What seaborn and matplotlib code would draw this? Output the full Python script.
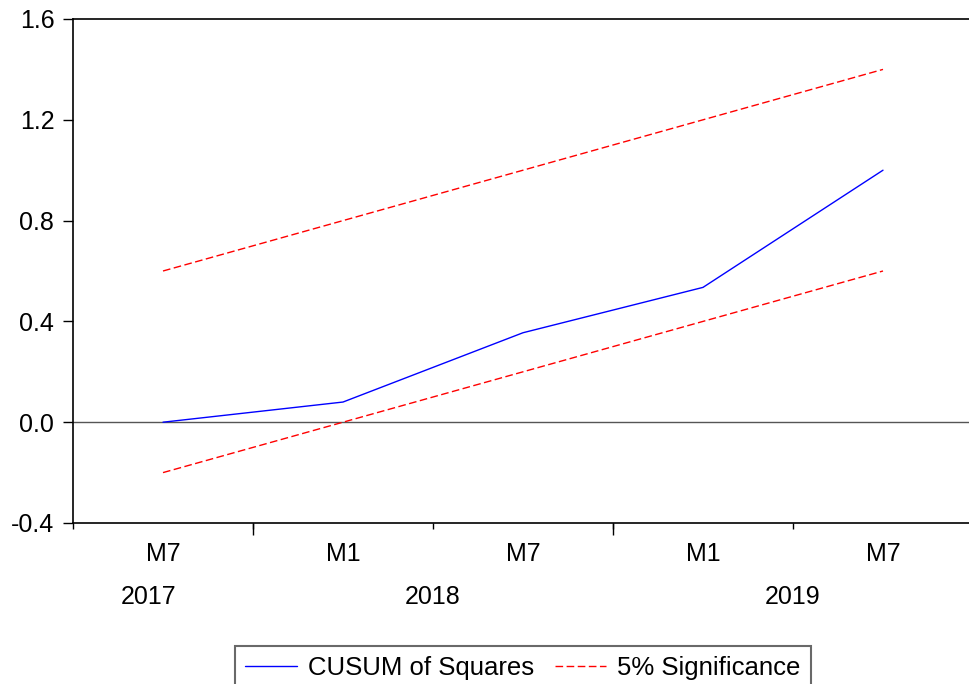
import numpy as np
import pandas as pd
import matplotlib
matplotlib.use('Agg')
import matplotlib.pyplot as plt
import seaborn as sns

# data (semi-annual points)
periods = ['M7', 'M1', 'M7', 'M1', 'M7']
years = ['2017', '2018', '2019']
year_centers = [-0.08, 1.5, 3.5]
cusum_sq = [0.0, 0.08, 0.355, 0.535, 1.0]
upper_5 = [0.6, 0.8, 1.0, 1.2, 1.4]
lower_5 = [-0.2, 0.0, 0.2, 0.4, 0.6]

df = pd.DataFrame({'pos': np.arange(len(periods)), 'cusum': cusum_sq,
                   'upper': upper_5, 'lower': lower_5})

sns.set_style('white')
plt.rcParams['font.family'] = ['Liberation Sans', 'DejaVu Sans']
plt.rcParams['font.size'] = 18
plt.rcParams['text.color'] = 'black'
plt.rcParams['xtick.color'] = 'black'
plt.rcParams['ytick.color'] = 'black'
plt.rcParams['xtick.labelcolor'] = 'black'
plt.rcParams['ytick.labelcolor'] = 'black'

fig = plt.figure(figsize=(9.69, 6.84), dpi=100)
ax = fig.add_axes([73 / 969, 161 / 684, 900 / 969, 504 / 684])

ax.axhline(0, color='#555555', lw=1.0, zorder=1)
sns.lineplot(data=df, x='pos', y='cusum', ax=ax, color='#0000FF', lw=1.0,
             label='CUSUM of Squares', legend=False)
sns.lineplot(data=df, x='pos', y='upper', ax=ax, color='#FF0000', lw=1.0,
             label='5% Significance', legend=False)
sns.lineplot(data=df, x='pos', y='lower', ax=ax, color='#FF0000', lw=1.0,
             label='_nolegend_', legend=False)
for ln in ax.lines[-2:]:
    ln.set_linestyle((0, (5.5, 2.5)))

ax.set_xlim(-0.5, 4.5)
ax.set_ylim(-0.4, 1.6)
yt = np.arange(-0.4, 1.61, 0.4)
ax.set_yticks(yt)
ax.set_yticklabels([f'{v:.1f}' for v in yt])
ax.set_xlabel('')
ax.set_ylabel('')

# month labels, short boundary ticks
ax.set_xticks(df['pos'])
ax.set_xticklabels(periods)
ax.set_xticks(np.arange(-0.5, 4.6, 1.0), minor=True)
ax.tick_params(axis='x', which='major', length=0, pad=13.5, labelsize=18)
ax.tick_params(axis='x', which='minor', length=4.5, width=1, color='black',
               direction='out', bottom=True)
ax.tick_params(axis='y', length=7.5, width=1, color='black', direction='out',
               left=True, pad=6, labelsize=18)

# year labels and long year-boundary ticks
sec = ax.secondary_xaxis('bottom')
sec.set_xticks(year_centers)
sec.set_xticklabels(years)
sec.set_xticks([0.5, 2.5], minor=True)
sec.tick_params(axis='x', which='major', length=0, pad=45, labelsize=18,
                labelcolor='black')
sec.tick_params(axis='x', which='minor', length=8.5, width=1, color='black',
                direction='out')
sec.spines['bottom'].set_visible(False)

for s in ['top', 'left', 'bottom', 'right']:
    ax.spines[s].set_color('black')
    ax.spines[s].set_linewidth(1.2)

leg = ax.legend(loc='upper left', bbox_to_anchor=(235 / 969, 1 - 646 / 684),
                bbox_transform=fig.transFigure, ncol=2, frameon=True,
                fancybox=False, handlelength=2.0, handletextpad=0.44,
                columnspacing=0.8, borderpad=0.4, borderaxespad=0,
                fontsize=18.5)
leg.get_frame().set_edgecolor('#444444')
leg.get_frame().set_linewidth(1.5)

fig.savefig('out.png', dpi=100)
